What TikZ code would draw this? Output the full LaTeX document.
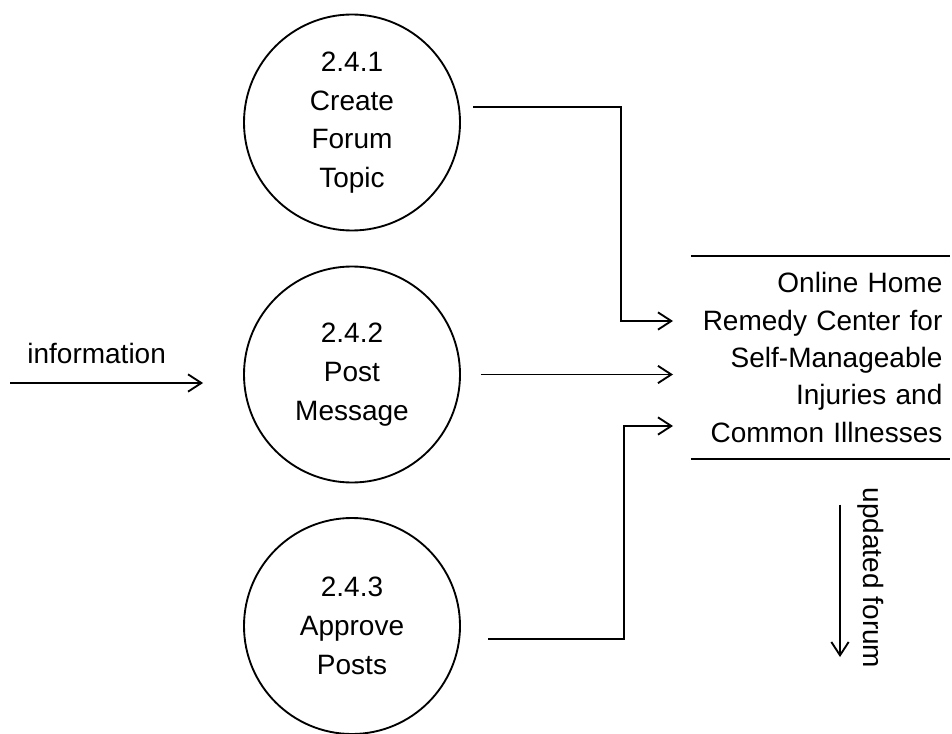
\documentclass[tikz,border=0pt]{standalone}
\usepackage{fontspec}
\setmainfont{Liberation Sans}
\usetikzlibrary{arrows.meta}

\begin{document}
\begin{tikzpicture}[x=0.75pt, y=-0.75pt, line width=1.4pt,
    flow/.style={-{Straight Barb[length=10pt,width=13pt]}},
    proc/.style={draw, circle, minimum size=162pt, inner sep=0pt, align=center, font=\fontsize{21}{29}\selectfont},
    store/.style={align=right, text width=183pt, inner xsep=5pt, inner ysep=12pt, font=\fontsize{21}{28}\selectfont},
    lbl/.style={font=\fontsize{21}{29}\selectfont}]
    \useasboundingbox (0,0) rectangle (952,734);

    % 处理过程
    \node[proc] (c1) at (352,122.5) {2.4.1\\Create\\Forum\\Topic};
    \node[proc] (c2) at (352,374.5) {2.4.2\\Post\\Message};
    \node[proc] (c3) at (352,626) {2.4.3\\Approve\\Posts};

    % 数据存储
    \node[store, anchor=east] (db) at (950,357.5) {Online Home\\Remedy Center for\\Self-Manageable\\Injuries and\\Common Illnesses};
    \draw (db.north west) -- (db.north east);
    \draw (db.south west) -- (db.south east);

    % 箭头端点
    \coordinate (t1) at (673,321);
    \coordinate (t2) at (673,374.5);
    \coordinate (t3) at (673,426);
    \coordinate (src) at (10,383);
    \coordinate (dst) at (840,657);

    % 数据流
    \draw[flow, shorten <=10pt] (c1.8) -- ++(161,0) |- (t1);
    \draw[flow, shorten <=15pt] (c2.east) -- (t2);
    \draw[flow, shorten <=21pt] (c3.-7) -- ++(164,0) |- (t3);
    \draw[flow, shorten >=30pt] (src) -- (src -| c2.west);
    \draw[flow, shorten <=34pt] (db.south -| dst) -- (dst);

    % 标签
    \node[lbl, anchor=base west] (info) at (22,363) {information};
    \node[lbl, rotate=-90] (upd) at (871,578) {updated forum};
\end{tikzpicture}
\end{document}
